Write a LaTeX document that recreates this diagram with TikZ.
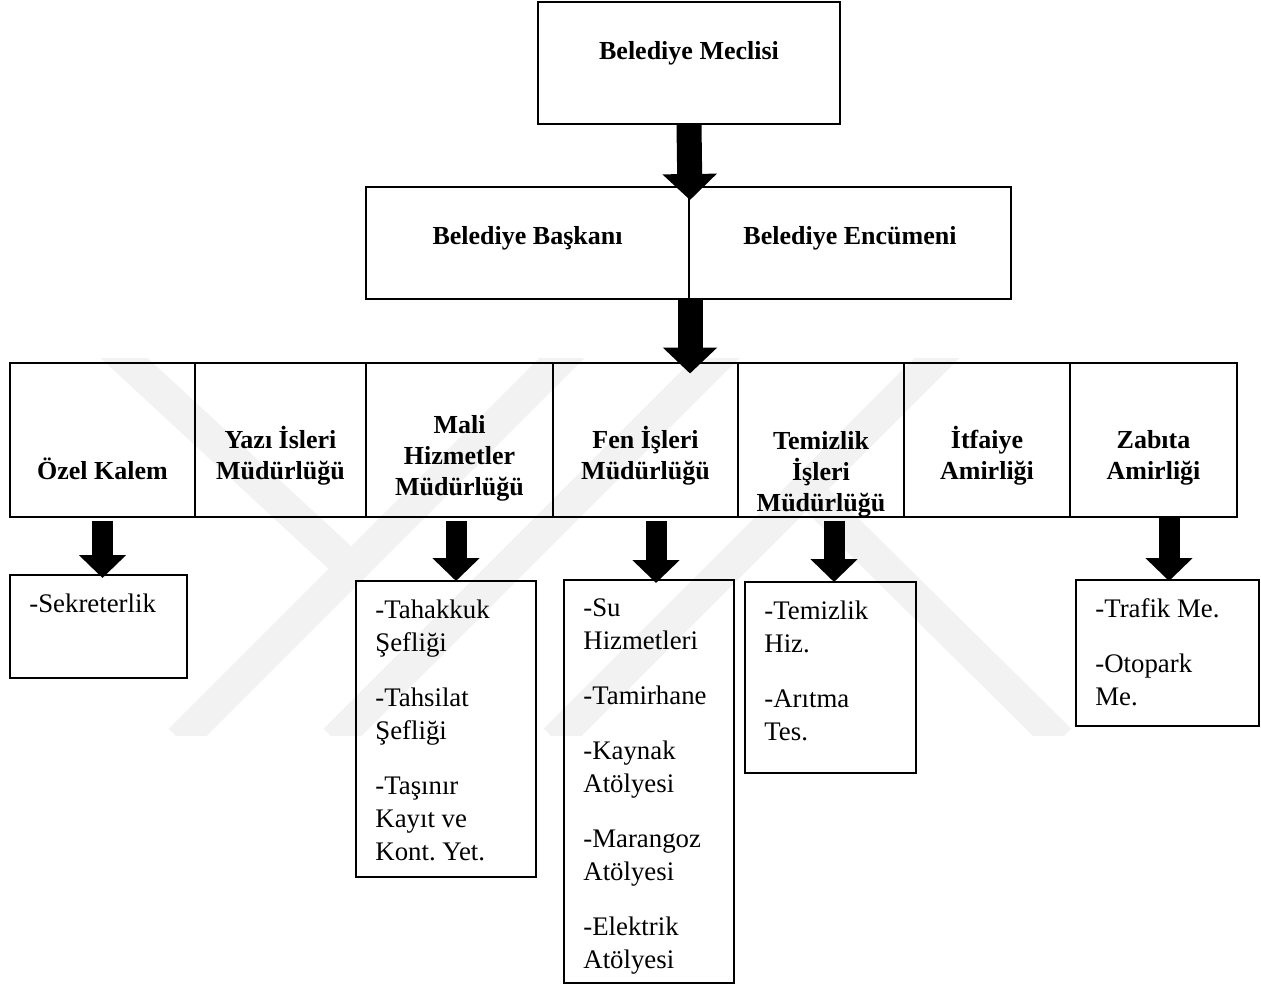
\documentclass[tikz,border=0pt]{standalone}
\usepackage{fontspec}
\setmainfont{Liberation Serif}
\usepackage{tikz}
\usetikzlibrary{arrows.meta, positioning, calc}
\tikzstyle{box} = [draw, line width=1pt, inner sep=0pt]
\tikzstyle{cell} = [box, minimum height=77pt]
\tikzstyle{head} = [font=\bfseries\fontsize{13}{15.5}\selectfont, align=center, inner sep=0pt]
\tikzstyle{item} = [font=\fontsize{13.4}{16.5}\selectfont, align=left, inner sep=0pt]
\tikzstyle{bigarrow} = [line width=12.5pt, -{Triangle[length=13pt, width=26.5pt]}]
\tikzstyle{subarrow} = [line width=10.5pt, -{Triangle[length=11.5pt, width=23pt]}]
\tikzstyle{wm} = [draw=black!5, line width=16pt]

\begin{document}
\begin{tikzpicture}[x=0.5pt, y=-0.5pt]
\useasboundingbox (0,0) rectangle (1261,984);

% faint watermark
\begin{scope}
  \clip (0,358) rectangle (1261,735);
  \draw[wm] (110,345) -- (362,578);
  \draw[wm] (180,740) -- (575,345);
  \draw[wm] (335,740) -- (730,345);
  \draw[wm] (555,740) -- (950,345);
  \draw[wm] (805,488) -- (1060,740);
\end{scope}

% top levels
\node[box, minimum width=151pt, minimum height=61pt] (meclis) at (689,63) {};
\node[head] (meclis-t) at ([yshift=5pt]meclis.center) {Belediye Meclisi};

\node[box, minimum width=161.5pt, minimum height=56pt] (baskan) at (527.5,243) {};
\node[box, minimum width=161pt, minimum height=56pt] (encumen) at (850,243) {};
\node[head] (baskan-t) at ([yshift=2.5pt]baskan.center) {Belediye Başkanı};
\node[head] (encumen-t) at ([yshift=2.5pt]encumen.center) {Belediye Encümeni};

% directorates
\node[cell, minimum width=92.5pt] (ozel) at (102.5,439.5) {};
\node[cell, minimum width=85.5pt] (yazi) at (280.5,439.5) {};
\node[cell, minimum width=93.5pt] (mali) at (459.5,439.5) {};
\node[cell, minimum width=92.5pt] (fen) at (645.5,439.5) {};
\node[cell, minimum width=83pt] (temiz) at (821,439.5) {};
\node[cell, minimum width=83pt] (itfaiye) at (987,439.5) {};
\node[cell, minimum width=83.5pt] (zabita) at (1153.5,439.5) {};

\node[head] (ozel-t) at ([yshift=-14.5pt]ozel.center) {Özel Kalem};
\node[head] (yazi-t) at ([yshift=-8pt]yazi.center) {Yazı İsleri\\Müdürlüğü};
\node[head] (mali-t) at ([yshift=-9.25pt]mali.center) {Mali\\Hizmetler\\Müdürlüğü};
\node[head] (fen-t) at ([yshift=-8pt]fen.center) {Fen İşleri\\Müdürlüğü};
\node[head] (temiz-t) at ([yshift=-17.5pt]temiz.center) {Temizlik\\İşleri\\Müdürlüğü};
\node[head] (itfaiye-t) at ([yshift=-8pt]itfaiye.center) {İtfaiye\\Amirliği};
\node[head] (zabita-t) at ([yshift=-9.25pt]zabita.center) {Zabıta\\Amirliği};

% units
\node[box, minimum width=88.5pt, minimum height=51.5pt] (sek) at (98.5,626.5) {};
\node[box, minimum width=90pt, minimum height=148pt] (tah) at (446,729) {};
\node[box, minimum width=85pt, minimum height=201.5pt] (su) at (649,781.5) {};
\node[box, minimum width=85.5pt, minimum height=95.5pt] (temhiz) at (830.5,677.5) {};
\node[box, minimum width=91.5pt, minimum height=73pt] (trafik) at (1167.5,653) {};

\node[item, below right=9.5pt and 10pt of sek.north west] (sek-t) {-Sekreterlik};
\node[item, below right=9.5pt and 10pt of tah.north west] (tah-t)
  {-Tahakkuk\\Şefliği\\[11pt]-Tahsilat\\Şefliği\\[11pt]-Taşınır\\Kayıt ve\\Kont.\ Yet.};
\node[item, below right=9.5pt and 10pt of su.north west] (su-t)
  {-Su\\Hizmetleri\\[11pt]-Tamirhane\\[11pt]-Kaynak\\Atölyesi\\[11pt]-Marangoz\\Atölyesi\\[11pt]-Elektrik\\Atölyesi};
\node[item, below right=9.5pt and 10pt of temhiz.north west] (temhiz-t)
  {-Temizlik\\Hiz.\\[11pt]-Arıtma\\Tes.};
\node[item, below right=9.5pt and 10pt of trafik.north west] (trafik-t)
  {-Trafik Me.\\[11pt]-Otopark\\Me.};

% arrows
\coordinate (tip) at (baskan.south east |- fen.north);
\draw[bigarrow] (meclis.south) -- ([yshift=-7pt]baskan.north east);
\draw[bigarrow] (baskan.south east) -- ([yshift=-6pt]tip);

\draw[subarrow] ($(ozel.south)+(0,3)$) -- ($(ozel.south |- sek.north)+(0,4)$);
\draw[subarrow] ($(mali.south)+(-3.5,3)$) -- ($(mali.south |- tah.north)+(-3.5,1)$);
\draw[subarrow] ($(fen.south)+(10.5,3)$) -- ($(fen.south |- su.north)+(10.5,4)$);
\draw[subarrow] ($(temiz.south)+(13,3)$) -- ($(temiz.south |- temhiz.north)+(13,1)$);
\draw[subarrow] ($(zabita.south)+(15.5,-1)$) -- ($(zabita.south |- trafik.north)+(15.5,2)$);

\end{tikzpicture}
\end{document}
